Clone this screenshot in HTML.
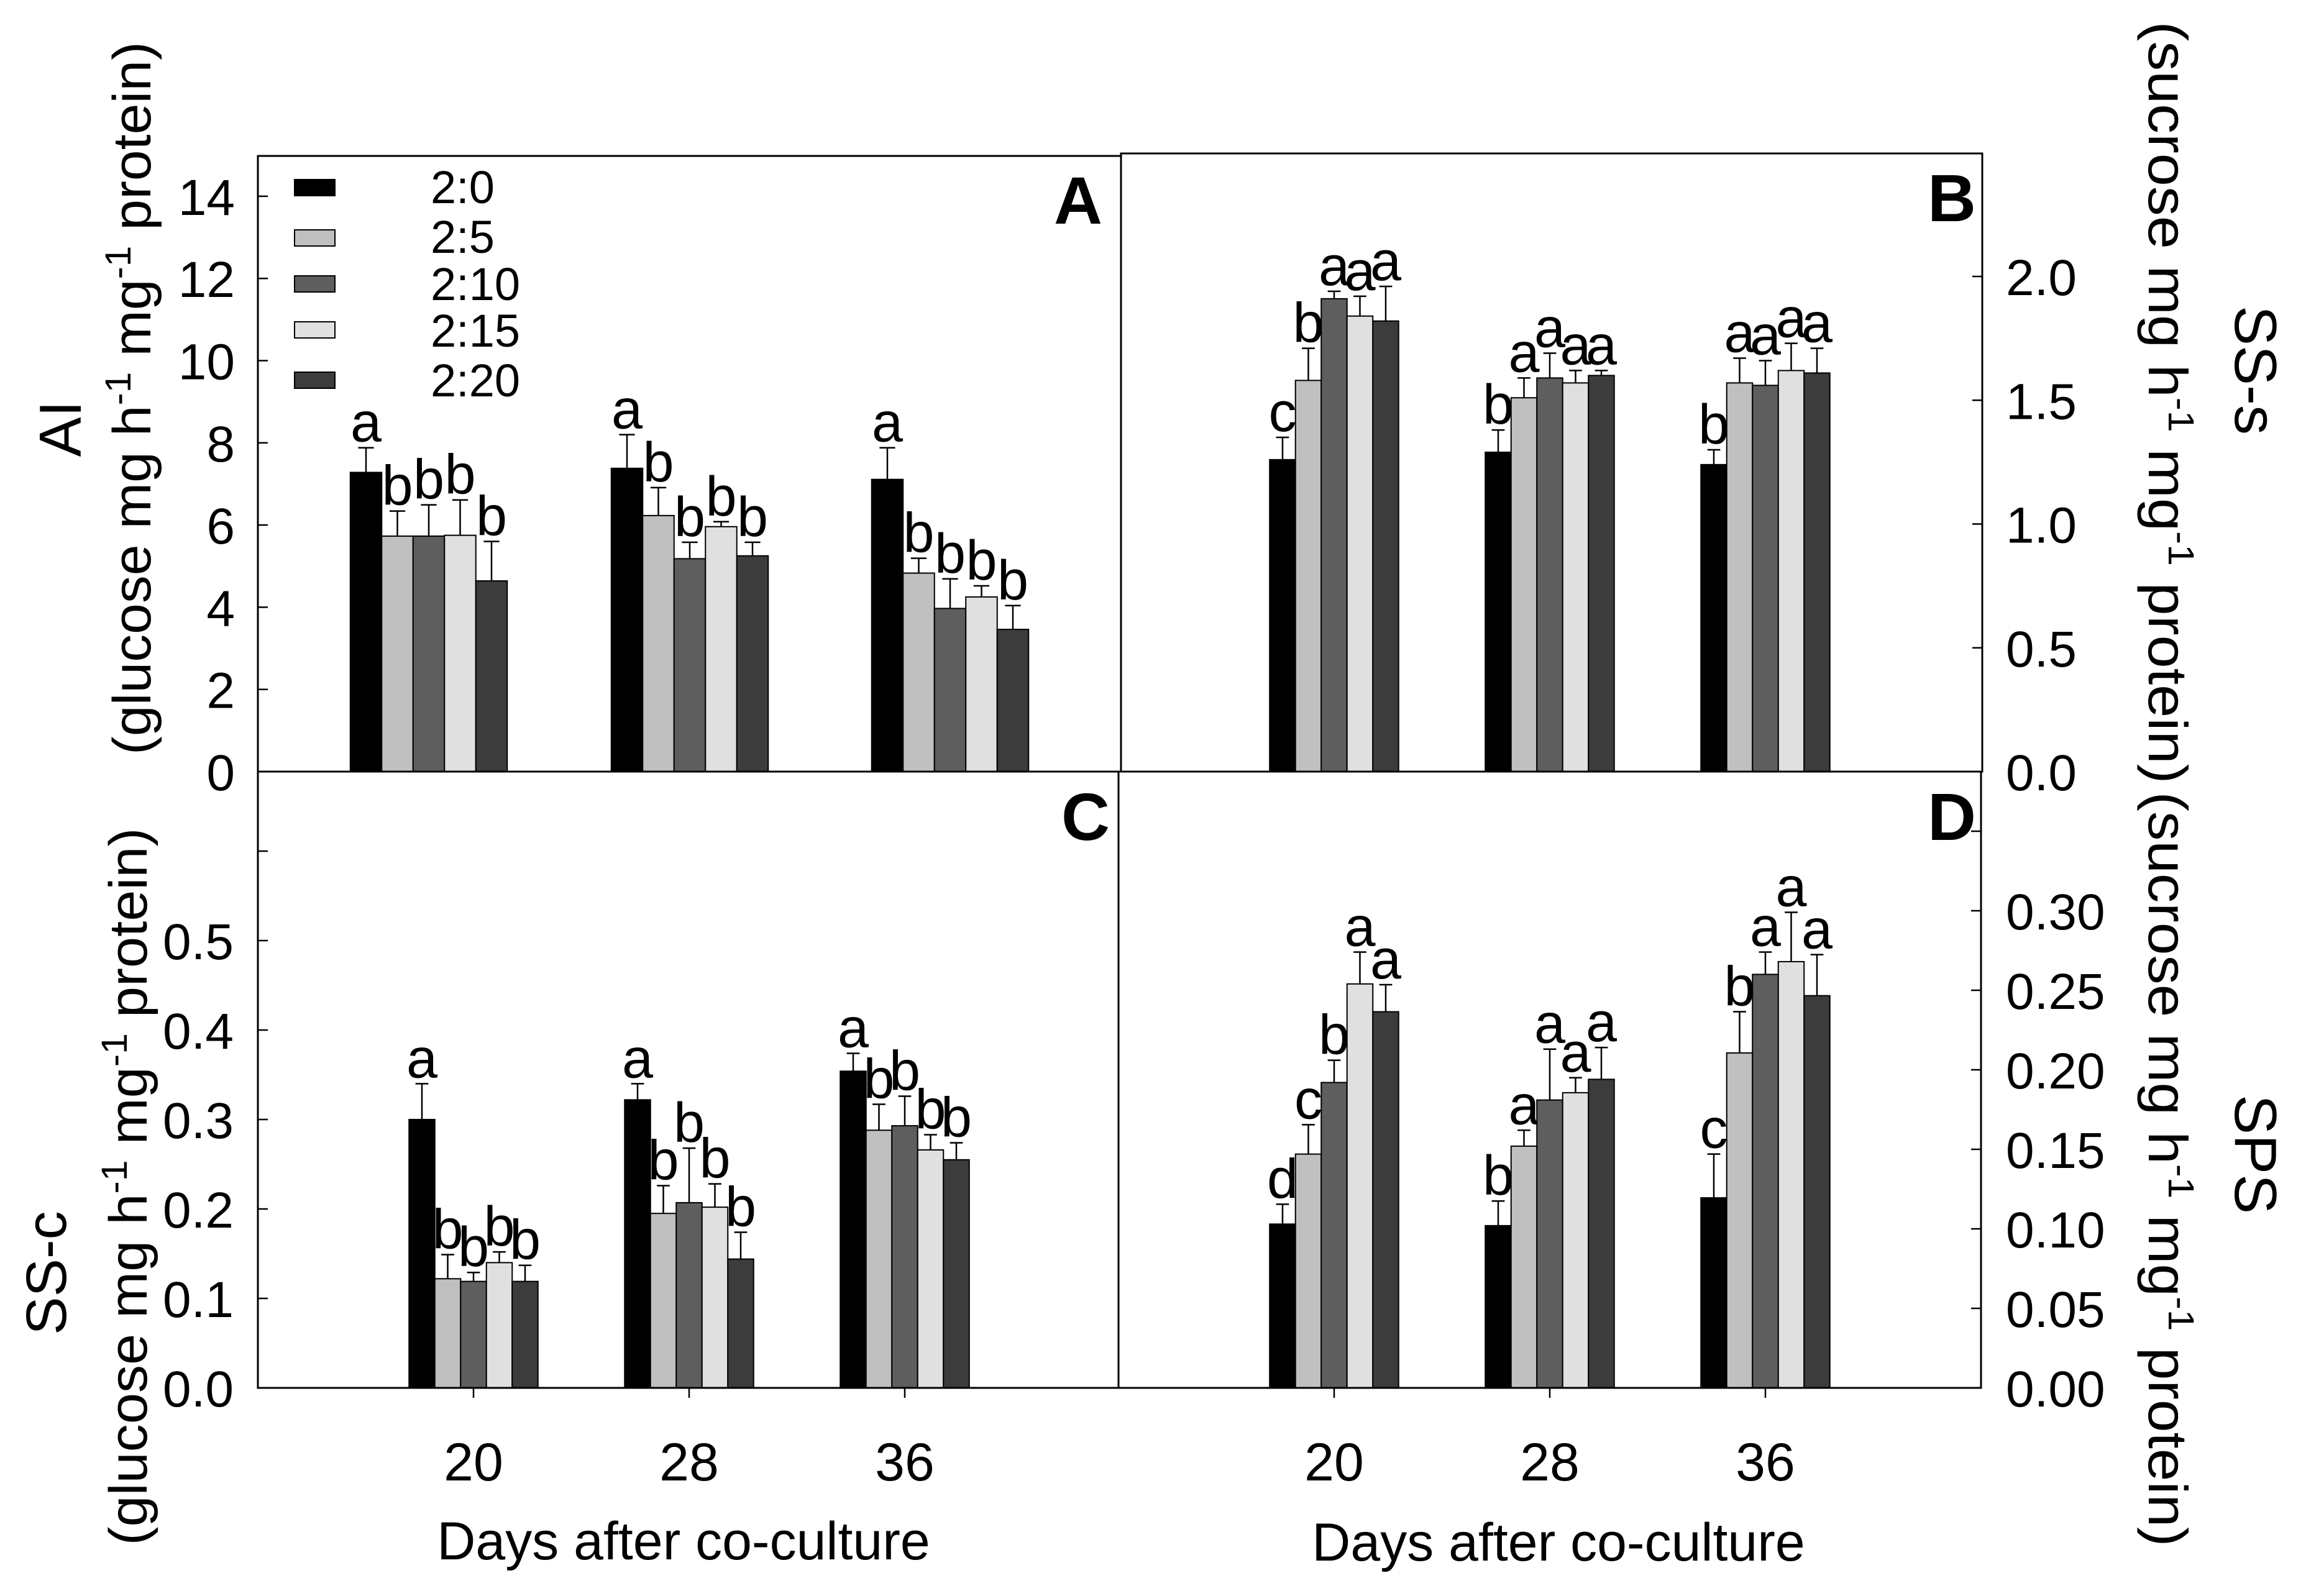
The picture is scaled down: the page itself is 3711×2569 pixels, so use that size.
<!DOCTYPE html>
<html><head><meta charset="utf-8"><style>
html,body{margin:0;padding:0;background:#fff}
svg{display:block}
text{font-family:"Liberation Sans",Arial,sans-serif;fill:#000}
</style></head><body>
<svg id="chart" xmlns="http://www.w3.org/2000/svg" width="3711" height="2569" viewBox="0 0 3711 2569">
<rect x="0" y="0" width="3711" height="2569" fill="#fff"/>
<g id="marks"></g>
<rect x="415" y="251" width="1389" height="991" fill="none" stroke="#000" stroke-width="3"/>
<rect x="1804" y="247" width="1386" height="995" fill="none" stroke="#000" stroke-width="3"/>
<rect x="415" y="1242" width="1385" height="992" fill="none" stroke="#000" stroke-width="3"/>
<rect x="1800" y="1242" width="1388" height="992" fill="none" stroke="#000" stroke-width="3"/>
<g id="axes"></g>
<text x="1774" y="360" font-size="108" font-weight="bold" text-anchor="end">A</text>
<text x="3180" y="356" font-size="108" font-weight="bold" text-anchor="end">B</text>
<text x="1786" y="1352" font-size="108" font-weight="bold" text-anchor="end">C</text>
<text x="3180" y="1352" font-size="108" font-weight="bold" text-anchor="end">D</text>
<g>
<rect x="474" y="289" width="65" height="26" fill="#000" stroke="#000" stroke-width="2"/>
<text x="693" y="327" font-size="74">2:0</text>
<rect x="474" y="370" width="65" height="26" fill="#c0c0c0" stroke="#000" stroke-width="2"/>
<text x="693" y="407" font-size="74">2:5</text>
<rect x="474" y="444" width="65" height="26" fill="#5e5e5e" stroke="#000" stroke-width="2"/>
<text x="693" y="483" font-size="74">2:10</text>
<rect x="474" y="518" width="65" height="26" fill="#e0e0e0" stroke="#000" stroke-width="2"/>
<text x="693" y="558" font-size="74">2:15</text>
<rect x="474" y="599" width="65" height="26" fill="#3c3c3c" stroke="#000" stroke-width="2"/>
<text x="693" y="638" font-size="74">2:20</text>
</g>
<text transform="translate(130,690) rotate(-90)" font-size="96" text-anchor="middle">AI</text>
<text transform="translate(242,641) rotate(-90)" font-size="86" text-anchor="middle" textLength="1148" lengthAdjust="spacingAndGlyphs">(glucose mg h<tspan dy="-32" font-size="58">-1</tspan><tspan dy="32"> mg</tspan><tspan dy="-32" font-size="58">-1</tspan><tspan dy="32"> protein)</tspan></text>
<text transform="translate(106,2049) rotate(-90)" font-size="92" text-anchor="middle">SS-c</text>
<text transform="translate(236,1910) rotate(-90)" font-size="86" text-anchor="middle" textLength="1155" lengthAdjust="spacingAndGlyphs">(glucose mg h<tspan dy="-32" font-size="58">-1</tspan><tspan dy="32"> mg</tspan><tspan dy="-32" font-size="58">-1</tspan><tspan dy="32"> protein)</tspan></text>
<text transform="translate(3597,596) rotate(90)" font-size="96" text-anchor="middle">SS-s</text>
<text transform="translate(3458,648) rotate(90)" font-size="88" text-anchor="middle" textLength="1227" lengthAdjust="spacingAndGlyphs">(sucrose mg h<tspan dy="-32" font-size="58">-1</tspan><tspan dy="32"> mg</tspan><tspan dy="-32" font-size="58">-1</tspan><tspan dy="32"> protein)</tspan></text>
<text transform="translate(3597,1858) rotate(90)" font-size="96" text-anchor="middle">SPS</text>
<text transform="translate(3458,1882) rotate(90)" font-size="88" text-anchor="middle" textLength="1215" lengthAdjust="spacingAndGlyphs">(sucrose mg h<tspan dy="-32" font-size="58">-1</tspan><tspan dy="32"> mg</tspan><tspan dy="-32" font-size="58">-1</tspan><tspan dy="32"> protein)</tspan></text>
<text x="1100" y="2510" font-size="86" text-anchor="middle">Days after co-culture</text>
<text x="2508" y="2512" font-size="86" text-anchor="middle">Days after co-culture</text>
</svg>
<script>
const categories = ["20", "28", "36"];
const series = ["2:0", "2:5", "2:10", "2:15", "2:20"];
const colors = ["#000000", "#c0c0c0", "#5e5e5e", "#e0e0e0", "#3c3c3c"];
const aiValues = [[7.28,7.38,7.11],[5.73,6.23,4.83],[5.73,5.18,3.97],[5.75,5.96,4.25],[4.64,5.25,3.46]];
const aiErrors = [[7.88,8.20,7.88],[6.34,6.91,5.19],[6.49,5.58,4.69],[6.61,6.08,4.52],[5.60,5.58,4.04]];
const aiLetters = [["a","a","a"],["b","b","b"],["b","b","b"],["b","b","b"],["b","b","b"]];
const aiTicks = [0,2,4,6,8,10,12,14];
const sssValues = [[1.26,1.29,1.24],[1.58,1.51,1.57],[1.91,1.59,1.56],[1.84,1.57,1.62],[1.82,1.60,1.61]];
const sssErrors = [[1.35,1.38,1.30],[1.71,1.59,1.67],[1.94,1.69,1.66],[1.92,1.62,1.73],[1.96,1.62,1.71]];
const sssLetters = [["c","b","b"],["b","a","a"],["a","a","a"],["a","a","a"],["a","a","a"]];
const sssTicks = [0,0.5,1.0,1.5,2.0];
const sssTickLabels = ["0.0","0.5","1.0","1.5","2.0"];
const sscValues = [[0.300,0.322,0.354],[0.122,0.195,0.288],[0.119,0.207,0.293],[0.140,0.202,0.266],[0.119,0.144,0.255]];
const sscErrors = [[0.340,0.340,0.374],[0.149,0.226,0.317],[0.129,0.268,0.326],[0.152,0.228,0.283],[0.137,0.174,0.274]];
const sscLetters = [["a","a","a"],["b","b","b"],["b","b","b"],["b","b","b"],["b","b","b"]];
const sscTicks = [0,0.1,0.2,0.3,0.4,0.5,0.6];
const sscTickLabels = ["0.0","0.1","0.2","0.3","0.4","0.5",""];
const spsValues = [[0.103,0.102,0.1195],[0.147,0.152,0.2106],[0.192,0.181,0.260],[0.254,0.1856,0.268],[0.2365,0.194,0.2466]];
const spsErrors = [[0.1155,0.1175,0.147],[0.1655,0.162,0.2365],[0.206,0.213,0.274],[0.274,0.195,0.299],[0.2535,0.214,0.2724]];
const spsLetters = [["d","b","c"],["c","a","b"],["b","a","a"],["a","a","a"],["a","a","a"]];
const spsTicks = [0,0.05,0.10,0.15,0.20,0.25,0.30,0.35];
const spsTickLabels = ["0.00","0.05","0.10","0.15","0.20","0.25","0.30",""];

const NS = "http://www.w3.org/2000/svg";
const marks = document.getElementById("marks");
const axes = document.getElementById("axes");
function mk(tag, attrs, parent){
  const e = document.createElementNS(NS, tag);
  for (const k in attrs) e.setAttribute(k, attrs[k]);
  parent.appendChild(e);
  return e;
}
const panels = [
  {id:"a", vals:aiValues, errs:aiErrors, lets:aiLetters, ticks:aiTicks, labels:aiTicks.map(String), y0:1242, ppu:66.15, centers:[690,1110,1529], bw:50.5, axisX:415, side:"left", labelX:378, xTicks:false},
  {id:"b", vals:sssValues, errs:sssErrors, lets:sssLetters, ticks:sssTicks, labels:sssTickLabels, y0:1242, ppu:398.5, centers:[2147,2494,2841], bw:41.5, axisX:3190, side:"right", labelX:3228, xTicks:false},
  {id:"c", vals:sscValues, errs:sscErrors, lets:sscLetters, ticks:sscTicks, labels:sscTickLabels, y0:2234, ppu:1440, centers:[762,1109,1456], bw:41.5, axisX:415, side:"left", labelX:376, xTicks:true},
  {id:"d", vals:spsValues, errs:spsErrors, lets:spsLetters, ticks:spsTicks, labels:spsTickLabels, y0:2234, ppu:2560, centers:[2147,2494,2841], bw:41.5, axisX:3188, side:"right", labelX:3228, xTicks:true}
];
panels.forEach(p => {
  const yScale = v => p.y0 - v * p.ppu;
  const xScale = (gi, si) => p.centers[gi] - p.bw * series.length / 2 + si * p.bw;
  for (let si = 0; si < series.length; si++) {
    for (let gi = 0; gi < categories.length; gi++) {
      const v = p.vals[si][gi], ev = p.errs[si][gi];
      const x = xScale(gi, si), yt = yScale(v), ye = yScale(ev);
      const cx = x + p.bw / 2;
      const r = mk("rect", {x:x, y:yt, width:p.bw, height:p.y0 - yt, fill:colors[si], stroke:"#000", "stroke-width":2}, marks);
      
      
      const l = mk("line", {x1:cx, y1:yt, x2:cx, y2:ye, stroke:"#000", "stroke-width":2.5}, marks);
      
      
      const c = mk("line", {x1:cx - p.bw * 0.25, y1:ye, x2:cx + p.bw * 0.25, y2:ye, stroke:"#000", "stroke-width":2.5}, marks);
      
      
      const t = mk("text", {x:cx, y:ye - 10, "font-size":90, "text-anchor":"middle"}, marks);
      t.textContent = p.lets[si][gi];
      
      
    }
  }
  p.ticks.forEach((tv, i) => {
    const y = yScale(tv);
    const dir = p.side === "left" ? 1 : -1;
    const tk = mk("line", {x1:p.axisX, y1:y, x2:p.axisX + dir * 16, y2:y, stroke:"#000", "stroke-width":2.5}, axes);
    
    
    if (p.labels[i] !== "") {
      const tl = mk("text", {x:p.labelX, y:y + 30, "font-size":82, "text-anchor":p.side === "left" ? "end" : "start"}, axes);
      tl.textContent = p.labels[i];
      
      
    }
  });
  if (p.xTicks) {
    categories.forEach((cat, gi) => {
      const x = p.centers[gi];
      const xt = mk("line", {x1:x, y1:p.y0, x2:x, y2:p.y0 + 16, stroke:"#000", "stroke-width":2.5}, axes);
      
      
      const xl = mk("text", {x:x, y:2383, "font-size":86, "text-anchor":"middle"}, axes);
      xl.textContent = cat;
      
      
    });
  }
});
</script>
</body></html>
